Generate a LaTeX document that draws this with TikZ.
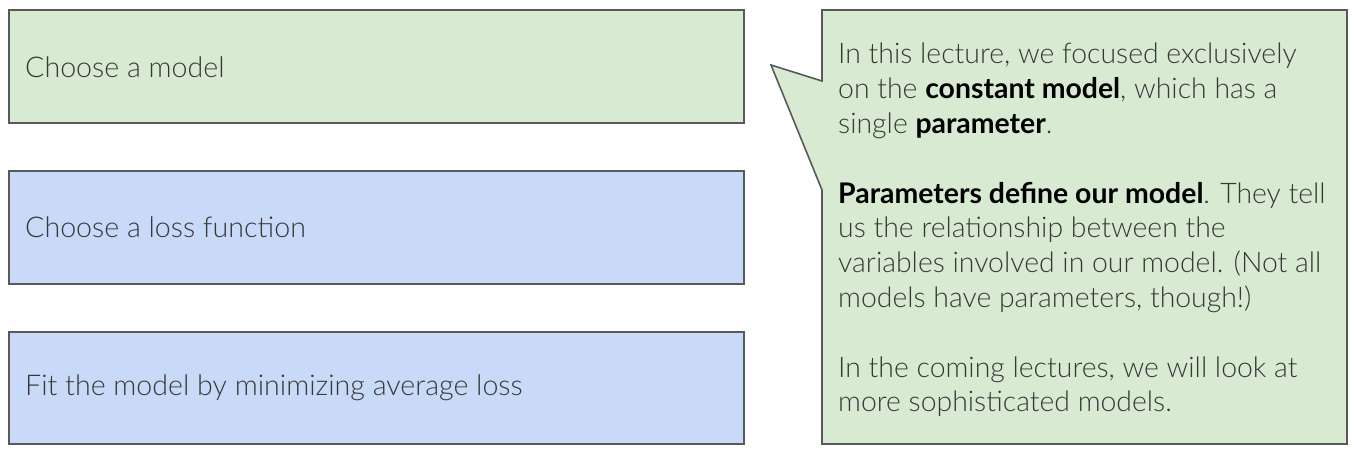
\documentclass[tikz,border=0pt]{standalone}
\usepackage{fontspec}
\setmainfont{Lato}[UprightFont=* Light, BoldFont=* Bold]
\begin{document}
\begin{tikzpicture}[x=1pt,y=-1pt,
  box/.style={draw=boxline, line width=1.6pt},
  lbl/.style={anchor=west, inner sep=0pt, text=txt, font=\fontsize{28.6}{34}\selectfont},
  body/.style={anchor=north west, inner sep=0pt, text=txt, align=left, font=\fontsize{28.4}{34.8}\selectfont}]
\definecolor{boxline}{HTML}{595959}
\definecolor{gfill}{HTML}{D9EAD3}
\definecolor{bfill}{HTML}{C9DAF8}
\definecolor{txt}{HTML}{383838}
\useasboundingbox (0,0) rectangle (1355,453);
\draw[box, fill=gfill] (9,10) rectangle (744,123);
\draw[box, fill=bfill] (9,171) rectangle (744,284);
\draw[box, fill=bfill] (9,332) rectangle (744,444);
\node[lbl] (m) at (25,67) {Choose a model};
\node[lbl] (l) at (25,227) {Choose a loss function};
\node[lbl] (f) at (25,388) {Fit the model by minimizing average loss};
\draw[box, fill=gfill, line join=miter] (822,10) -- (1347,10) -- (1347,444) -- (822,444) -- (822,190) -- (771,65) -- (822,81) -- cycle;
\node[body] (c) at (838,43) {In this lecture, we focused exclusively\\
on the \textbf{\color{black}constant model}, which has a\\
single \textbf{\color{black}parameter}.\\
\strut\\
\textbf{\color{black}Parameters define our model}. They tell\\
us the relationship between the\\
variables involved in our model. (Not all\\
models have parameters, though!)\\
\strut\\
In the coming lectures, we will look at\\
more sophisticated models.};
\end{tikzpicture}
\end{document}
